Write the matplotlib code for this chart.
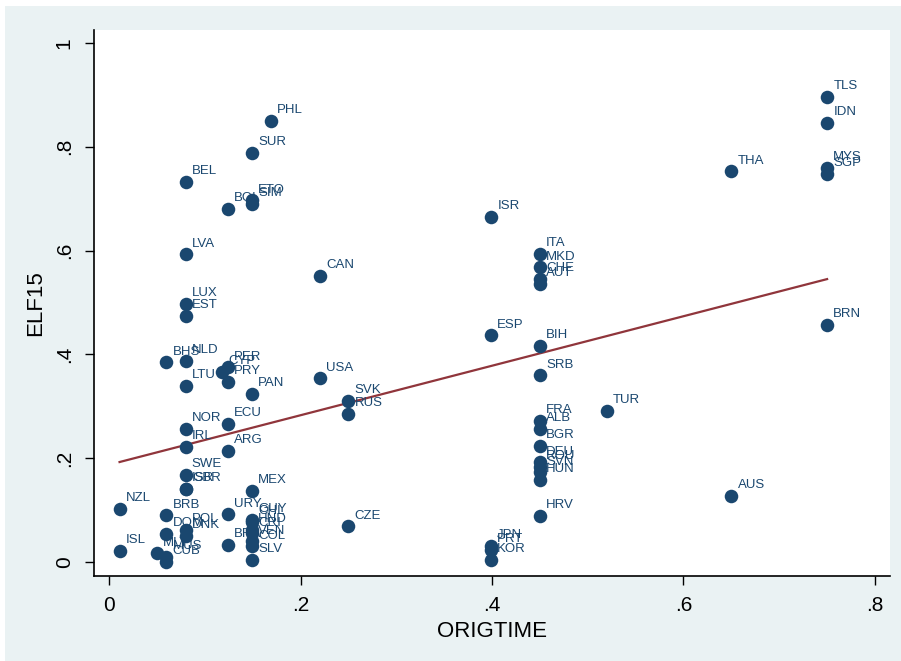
import numpy as np
import matplotlib.pyplot as plt
from matplotlib.patches import Rectangle

plt.rcParams['font.family'] = ['Liberation Sans', 'DejaVu Sans']

# country codes, ORIGTIME, ELF15
codes = ["NZL", "ISL", "BRB", "DOM", "POL", "DNK", "MLT", "MUS", "CUB",
         "BHS", "BEL", "LVA", "LUX", "EST", "NLD", "LTU", "NOR", "IRL",
         "SWE", "GBR", "ISR2",
         "BOL", "PER", "CYP", "PRY", "ECU", "ARG", "URY", "BRA",
         "PAN", "SUR", "ETO", "SIM", "MEX", "GUY", "CHL", "HND", "CRI",
         "VEN", "COL", "SLV", "PHL",
         "CAN", "USA", "SVK", "RUS", "CZE",
         "ISR", "ESP", "JPN", "PRT", "KOR",
         "ITA", "MKD", "CHE", "AUT", "BIH", "SRB", "FRA", "ALB", "BGR",
         "DEU", "ROU", "SVN", "HUN", "HRV",
         "TUR", "THA", "AUS", "TLS", "IDN", "MYS", "SGP", "BRN"]
origtime = [0.011, 0.011, 0.06, 0.06, 0.08, 0.08, 0.05, 0.06, 0.06,
            0.06, 0.08, 0.08, 0.08, 0.08, 0.08, 0.08, 0.08, 0.08,
            0.08, 0.08, 0.08,
            0.124, 0.124, 0.118, 0.124, 0.124, 0.124, 0.124, 0.124,
            0.149, 0.149, 0.149, 0.149, 0.149, 0.149, 0.149, 0.149, 0.149,
            0.149, 0.149, 0.149, 0.169,
            0.22, 0.22, 0.25, 0.25, 0.25,
            0.399, 0.399, 0.399, 0.399, 0.399,
            0.45, 0.45, 0.45, 0.45, 0.45, 0.45, 0.45, 0.45, 0.45,
            0.45, 0.45, 0.45, 0.45, 0.45,
            0.52, 0.65, 0.65, 0.75, 0.75, 0.75, 0.75, 0.75]
elf15 = [0.102, 0.021, 0.090, 0.054, 0.062, 0.050, 0.017, 0.010, 0.000,
         0.385, 0.732, 0.593, 0.497, 0.474, 0.387, 0.339, 0.256, 0.222,
         0.168, 0.141, 0.141,
         0.680, 0.375, 0.366, 0.347, 0.266, 0.214, 0.092, 0.033,
         0.324, 0.788, 0.697, 0.690, 0.137, 0.081, 0.077, 0.062, 0.055,
         0.040, 0.030, 0.004, 0.850,
         0.551, 0.354, 0.310, 0.285, 0.069,
         0.665, 0.437, 0.031, 0.023, 0.004,
         0.594, 0.568, 0.545, 0.536, 0.416, 0.360, 0.272, 0.256, 0.224,
         0.192, 0.183, 0.173, 0.158, 0.089,
         0.291, 0.753, 0.127, 0.896, 0.846, 0.759, 0.748, 0.457]

labels = [c[:3] for c in codes]
x = np.array(origtime)
y = np.array(elf15)

navy = "#1a476f"
maroon = "#90353b"
bg = "#eaf2f3"

fig = plt.figure(figsize=(9.01, 6.61), dpi=100, facecolor="white")
fig.patches.append(Rectangle((5 / 901, 0), 896 / 901, 655 / 661,
                             transform=fig.transFigure, facecolor=bg,
                             edgecolor="none", zorder=-10))
ax = fig.add_axes([94 / 901, 1 - 576 / 661, 796 / 901, 546 / 661])
ax.set_facecolor("white")

ax.scatter(x, y, s=95, color=navy, zorder=3, linewidths=0)
for xi, yi, lab in zip(x, y, labels):
    ax.annotate(lab, (xi, yi), xytext=(4.5, 5.5), textcoords="offset points",
                ha="left", va="baseline", fontsize=9.5, color=navy, zorder=4)

# linear fit
b, a = np.polyfit(x, y, 1)
xf = np.array([x.min(), x.max()])
ax.plot(xf, a + b * xf, color=maroon, lw=1.6, zorder=2)

ax.set_xlim(-0.0157, 0.8157)
ax.set_ylim(-0.027, 1.025)
ax.set_xticks([0, 0.2, 0.4, 0.6, 0.8])
ax.set_xticklabels(["0", ".2", ".4", ".6", ".8"])
ax.set_yticks([0, 0.2, 0.4, 0.6, 0.8, 1])
ax.set_yticklabels(["0", ".2", ".4", ".6", ".8", "1"], rotation=90, va="center")
ax.tick_params(direction="out", length=6.5, width=1, labelsize=15, pad=8,
               colors="black")
for s in ["top", "right"]:
    ax.spines[s].set_visible(False)
for s in ["left", "bottom"]:
    ax.spines[s].set_linewidth(1.2)
ax.set_xlabel("ORIGTIME", fontsize=16, labelpad=4)
ax.set_ylabel("ELF15", fontsize=16, labelpad=6)

fig.savefig("out.png", dpi=100, facecolor=fig.get_facecolor())
